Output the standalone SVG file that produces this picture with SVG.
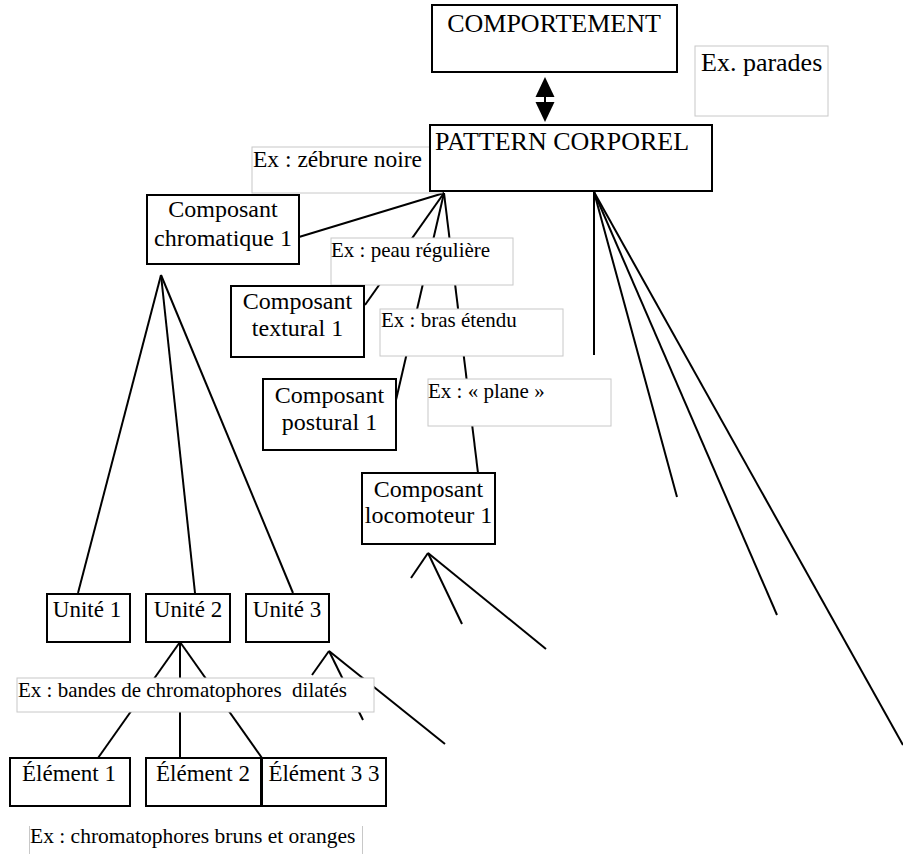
<svg xmlns="http://www.w3.org/2000/svg" width="903" height="854" viewBox="0 0 903 854">
<style>
.node rect{fill:#fff;stroke:#000;stroke-width:2}
.lbl rect{fill:#fff;stroke:#c8c8c8;stroke-width:1}
text{font-family:"Liberation Serif","Times New Roman",serif;fill:#000}
.t26{font-size:26px}
.t24{font-size:24px}
.t23{font-size:23px}
.t21{font-size:21px}
.mid{text-anchor:middle}
#connectors line{stroke:#000;stroke-width:2;fill:none}
</style>
<defs>
<marker id="tri" viewBox="0 0 20 20" refX="0" refY="10" markerWidth="20" markerHeight="20" markerUnits="userSpaceOnUse" orient="auto-start-reverse">
<path d="M0,0.5 L20,10 L0,19.5 Z" fill="#000"/>
</marker>
</defs>
<rect width="903" height="854" fill="#fff"/>
<g id="connectors">
<line x1="545" y1="97" x2="545" y2="102" marker-start="url(#tri)" marker-end="url(#tri)"/>
<line x1="444" y1="193" x2="299" y2="237"/>
<line x1="444" y1="193" x2="365" y2="305"/>
<line x1="444" y1="193" x2="396" y2="400"/>
<line x1="444" y1="193" x2="478" y2="473"/>
<line x1="594" y1="192" x2="594" y2="355"/>
<line x1="594" y1="192" x2="677" y2="497"/>
<line x1="594" y1="192" x2="777" y2="615"/>
<line x1="594" y1="192" x2="903" y2="745"/>
<line x1="161" y1="275" x2="78" y2="593"/>
<line x1="161" y1="275" x2="195" y2="593"/>
<line x1="161" y1="275" x2="293" y2="593"/>
<line x1="428" y1="553" x2="411" y2="578"/>
<line x1="428" y1="553" x2="462" y2="624"/>
<line x1="428" y1="553" x2="546" y2="649"/>
<line x1="180" y1="642" x2="98" y2="758"/>
<line x1="180" y1="642" x2="180" y2="758"/>
<line x1="180" y1="642" x2="262" y2="758"/>
<line x1="329" y1="651" x2="312" y2="675"/>
<line x1="329" y1="651" x2="363" y2="720"/>
<line x1="329" y1="651" x2="445" y2="744"/>
</g>
<g id="lbl-parades" class="lbl"><rect x="695" y="46" width="133" height="70"/><text class="t26" x="701" y="71">Ex. parades</text></g>
<g id="lbl-zebrure" class="lbl"><rect x="252" y="147" width="190" height="46"/><text x="253" y="167" style="font-size:23.5px">Ex : zébrure noire</text></g>
<g id="lbl-peau" class="lbl"><rect x="331" y="238" width="182" height="47"/><text class="t21" x="331" y="257">Ex : peau régulière</text></g>
<g id="lbl-bras" class="lbl"><rect x="380" y="309" width="183" height="47"/><text class="t21" x="381" y="327">Ex : bras étendu</text></g>
<g id="lbl-plane" class="lbl"><rect x="428" y="379" width="183" height="47"/><text class="t21" x="428" y="398">Ex : « plane »</text></g>
<g id="lbl-bandes" class="lbl"><rect x="17" y="678" width="357" height="34"/><text class="t21" x="18" y="697" xml:space="preserve">Ex : bandes de chromatophores  dilatés</text></g>
<g id="lbl-chromatophores"><line x1="29.5" y1="826" x2="29.5" y2="854" stroke="#c8c8c8"/><line x1="362.5" y1="826" x2="362.5" y2="854" stroke="#c8c8c8"/><text class="t21" x="30" y="843" style="font-size:21.5px">Ex : chromatophores bruns et oranges</text></g>
<g id="n-comportement" class="node"><rect x="432" y="5" width="245" height="67"/><text class="t26 mid" x="554" y="32">COMPORTEMENT</text></g>
<g id="n-pattern" class="node"><rect x="430" y="125" width="282" height="66"/><text class="t26" x="435" y="150">PATTERN CORPOREL</text></g>
<g id="n-chromatique" class="node"><rect x="147" y="195" width="152" height="69"/><text class="t24 mid" x="223" y="217">Composant</text><text class="t24 mid" x="223" y="246">chromatique 1</text></g>
<g id="n-textural" class="node"><rect x="231" y="286" width="133" height="71"/><text class="t24 mid" x="297.5" y="309">Composant</text><text class="t24 mid" x="297.5" y="336">textural 1</text></g>
<g id="n-postural" class="node"><rect x="263" y="379" width="133" height="71"/><text class="t24 mid" x="329.5" y="403">Composant</text><text class="t24 mid" x="329.5" y="430">postural 1</text></g>
<g id="n-locomoteur" class="node"><rect x="362" y="473" width="133" height="71"/><text class="t24 mid" x="428.5" y="497">Composant</text><text class="t24 mid" x="428.5" y="523">locomoteur 1</text></g>
<g id="n-unite1" class="node"><rect x="47" y="594" width="83" height="48"/><text class="t23 mid" x="87" y="617">Unité 1</text></g>
<g id="n-unite2" class="node"><rect x="146" y="594" width="84" height="48"/><text class="t23 mid" x="188" y="617">Unité 2</text></g>
<g id="n-unite3" class="node"><rect x="246" y="594" width="83" height="48"/><text class="t23 mid" x="287" y="617">Unité 3</text></g>
<g id="n-element1" class="node"><rect x="10" y="758" width="120" height="48"/><text class="t23 mid" x="69" y="781">Élément 1</text></g>
<g id="n-element2" class="node"><rect x="146" y="758" width="115" height="48"/><text class="t23 mid" x="203" y="781">Élément 2</text></g>
<g id="n-element3" class="node"><rect x="262" y="758" width="124" height="48"/><text class="t23 mid" x="324" y="781">Élément 3 3</text></g>
</svg>
